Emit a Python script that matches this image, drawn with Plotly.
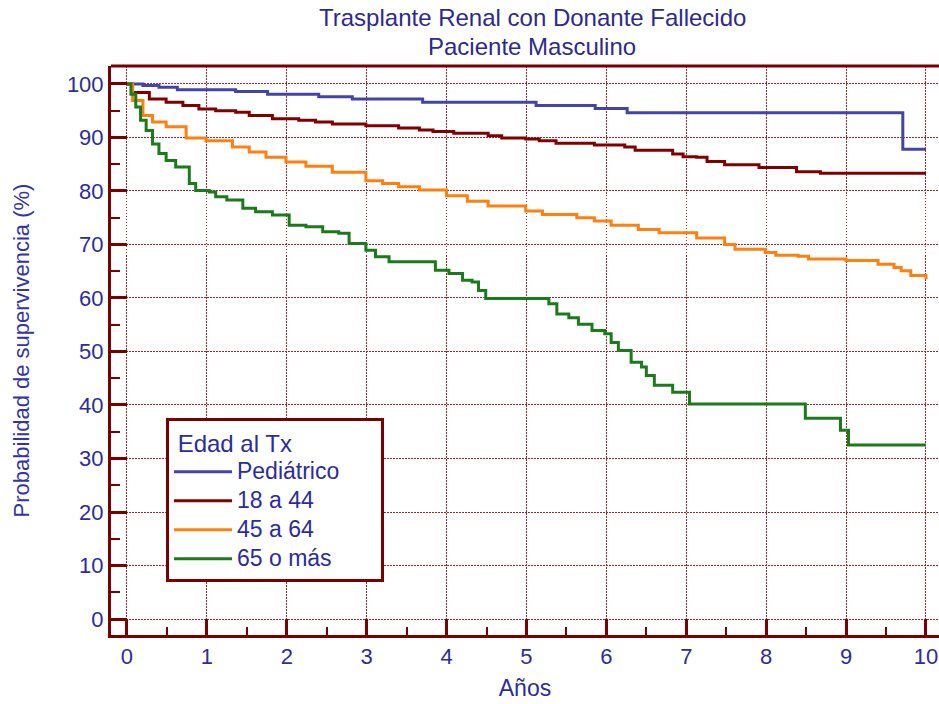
import plotly.graph_objects as go

# ---------------- data ----------------
series_names = ["Pediátrico", "18 a 44", "45 a 64", "65 o más"]
legend_title = "Edad al Tx"
title_lines = ["Trasplante Renal con Donante Fallecido", "Paciente Masculino"]

ped_t = [0, 0.2, 0.4, 0.63, 1.36, 1.76, 2.4, 2.82, 3.7, 5.12, 5.86, 6.26, 9.71, 10]
ped_v = [100, 99.7, 99.4, 98.9, 98.6, 98.1, 97.6, 97.2, 96.6, 96.0, 95.4, 94.6, 87.8, 87.8]

a18_t = [0, 0.07, 0.28, 0.49, 0.70, 0.90, 1.11, 1.36, 1.53, 1.82, 2.15, 2.36, 2.57, 2.99,
         3.40, 3.66, 3.83, 4.09, 4.52, 4.69, 4.99, 5.16, 5.37, 5.85, 6.23, 6.36, 6.83,
         6.96, 7.13, 7.26, 7.48, 7.91, 8.38, 8.68, 10]
a18_v = [100, 98.4, 97.2, 96.6, 96.0, 95.3, 95.0, 94.7, 94.1, 93.5, 93.2, 92.9, 92.5, 92.2,
         91.75, 91.4, 91.1, 90.8, 90.3, 89.9, 89.7, 89.4, 88.9, 88.6, 88.2, 87.6, 86.9,
         86.4, 86.3, 85.5, 84.9, 84.4, 83.6, 83.3, 83.3]

a45_t = [0, 0.07, 0.2, 0.32, 0.49, 0.74, 0.99, 1.32, 1.53, 1.74, 1.99, 2.24, 2.57, 2.99,
         3.2, 3.4, 3.66, 4.0, 4.26, 4.52, 4.99, 5.2, 5.63, 5.85, 6.06, 6.4, 6.66, 7.13,
         7.48, 7.61, 7.99, 8.12, 8.4, 8.53, 9.0, 9.4, 9.6, 9.69, 9.81, 10]
a45_v = [100, 96.9, 94.1, 92.9, 92.0, 89.9, 89.4, 88.2, 87.3, 86.3, 85.4, 84.6, 83.5, 81.9,
         81.4, 80.8, 80.2, 79.1, 78.1, 77.2, 76.25, 75.6, 75.0, 74.4, 73.6, 72.8, 72.2, 71.2,
         70.0, 69.1, 68.5, 68.0, 67.8, 67.3, 67.0, 66.3, 65.7, 65.1, 64.2, 63.5]

a65_t = [0, 0.05, 0.11, 0.17, 0.24, 0.32, 0.4, 0.49, 0.61, 0.78, 0.86, 1.03, 1.11, 1.25,
         1.45, 1.61, 1.82, 2.03, 2.24, 2.45, 2.65, 2.78, 2.99, 3.11, 3.28, 3.86, 4.03, 4.2,
         4.32, 4.4, 4.49, 5.28, 5.38, 5.53, 5.65, 5.82, 5.98, 6.06, 6.15, 6.31, 6.44, 6.5,
         6.6, 6.83, 7.04, 8.49, 8.93, 9.03, 10]
a65_v = [100, 98.1, 95.7, 93.2, 91.3, 88.8, 87.0, 85.7, 84.5, 81.4, 80.1, 79.8, 78.9, 78.3,
         76.75, 76.1, 75.5, 73.6, 73.3, 72.4, 72.1, 70.2, 68.9, 67.7, 66.75, 65.2, 64.6, 63.3,
         63.0, 61.4, 59.9, 58.9, 57.0, 56.3, 55.1, 53.9, 53.3, 51.7, 50.2, 48.0, 47.1, 45.5,
         43.7, 42.4, 40.2, 37.5, 35.3, 32.5, 32.5]

x_ticks = list(range(0, 11))
y_ticks = list(range(0, 101, 10))

# ---------------- styles ----------------
colors = ["#4343A8", "#800000", "#FF8010", "#1B7A1B"]
frame = "#7A0000"
grid = "#A02828"
txt = "#2C2C9C"
font_main = "Liberation Sans, Arial, sans-serif"
NB = "\u00a0"

fig = go.Figure()
for name, t, v, c in zip(series_names,
                         [ped_t, a18_t, a45_t, a65_t],
                         [ped_v, a18_v, a45_v, a65_v],
                         colors):
    fig.add_trace(go.Scatter(x=t, y=v, mode="lines",
                             name=f'<span style="font-size:23px">{name}</span>',
                             line=dict(color=c, width=3, shape="hv")))

fig.update_layout(
    width=939, height=704,
    margin=dict(l=111, r=0, t=66, b=69),
    paper_bgcolor="white", plot_bgcolor="white",
    legend=dict(title=dict(text=NB + legend_title + NB * 13,
                           font=dict(family=font_main, size=24, color=txt)),
                font=dict(family=font_main, size=20, color=txt),
                x=0.0664, y=0.3814, xanchor="left", yanchor="top",
                bgcolor="white", bordercolor=frame, borderwidth=3,
                itemwidth=58),
    showlegend=True,
)

for line_txt, yy in zip(title_lines, [1.0844, 1.0351]):
    fig.add_annotation(text=line_txt, xref="paper", yref="paper", x=0.5085, y=yy,
                       xanchor="center", yanchor="middle", showarrow=False,
                       font=dict(family=font_main, size=24, color="#2E2A8C"))

fig.update_xaxes(
    range=[-0.2, 10.163], tickvals=x_ticks, ticktext=[str(v) for v in x_ticks],
    showline=True, linecolor=frame, linewidth=3,
    ticks="inside", ticklen=16, tickwidth=3, tickcolor=frame,
    minor=dict(ticks="inside", ticklen=8, tickwidth=2, tickcolor=frame, dtick=0.5, tick0=0,
               showgrid=False),
    showgrid=True, gridcolor=grid, gridwidth=1, griddash="1.5px,1.5px", zeroline=False,
    tickfont=dict(family=font_main, size=22, color=txt),
    title=dict(text="Años", font=dict(family=font_main, size=23, color=txt), standoff=12),
)
fig.update_yaxes(
    range=[-2.99, 103.36], tickvals=y_ticks, ticktext=[str(v) for v in y_ticks],
    showline=True, linecolor=frame, linewidth=3,
    ticks="inside", ticklen=16, tickwidth=3, tickcolor=frame,
    minor=dict(ticks="inside", ticklen=9, tickwidth=2, tickcolor=frame, dtick=5, tick0=0,
               showgrid=False),
    showgrid=True, gridcolor=grid, gridwidth=1, griddash="1.5px,1.5px", zeroline=False,
    tickfont=dict(family=font_main, size=22, color=txt),
    title=dict(text="Probabilidad de supervivencia (%)",
               font=dict(family=font_main, size=22, color="#3434A8"), standoff=32),
)

# top border of the frame
fig.add_shape(type="line", xref="paper", yref="paper", x0=0, x1=1, y0=1, y1=1,
              line=dict(color=frame, width=3))

fig.write_html("out.html")
